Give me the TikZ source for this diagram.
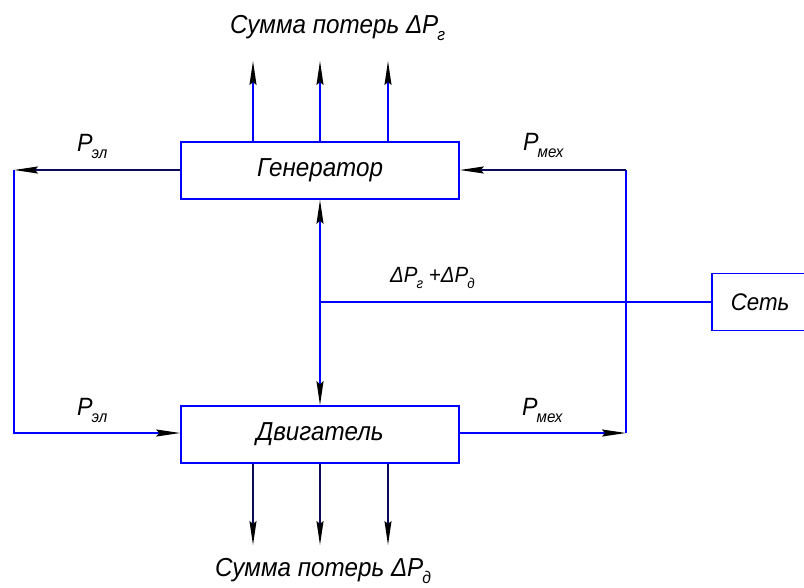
\documentclass[tikz,border=0pt]{standalone}
\usepackage{fontspec}
\setmainfont{Liberation Sans}[FakeStretch=0.93]
\usetikzlibrary{arrows.meta}
\definecolor{lblue}{RGB}{0,0,255}
\definecolor{dline}{RGB}{10,10,90}
\newcommand\sbs[1]{\kern-0.04em\raisebox{-0.3em}{\scalebox{0.65}{#1}}}
\tikzset{
  box/.style={draw=lblue, line width=1.6pt, rectangle, minimum width=278pt, minimum height=57pt, inner sep=0pt, font=\fontsize{26}{26}\selectfont\itshape},
  conn/.style={draw=lblue, line width=1.6pt},
  dconn/.style={draw=dline, line width=1.6pt},
  arr/.style={-{Stealth[length=24pt,width=7pt,inset=3pt,color=black]}},
  lbl/.style={inner sep=0pt, anchor=base west, font=\fontsize{25}{25}\selectfont\itshape},
  ttl/.style={inner sep=0pt, anchor=base west, font=\fontsize{26}{26}\selectfont\itshape},
  sml/.style={inner sep=0pt, anchor=base west, font=\fontsize{22}{22}\selectfont\itshape}
}
\begin{document}
\begin{tikzpicture}[x=1pt,y=-1pt]
\useasboundingbox (0,0) rectangle (804,587);
% boxes
\node[box] (gen) at (320,170.5) {Генератор};
\node[box] (mot) at (320,434.5) {Двигатель};
\node[box, minimum width=0pt, text width=90pt, align=left, inner xsep=19pt, anchor=west, font=\fontsize{24}{24}\selectfont\itshape] (net) at (711,302) {Сеть};
% corner coordinates
\coordinate (lt) at (14,170);
\coordinate (lb) at (14,433);
\coordinate (rt) at (626,170);
\coordinate (rb) at (626,433);
\coordinate (mid) at (320,302);
% left loop
\draw[dconn, arr] (gen.west |- lt) -- (lt);
\draw[conn, arr] (lt) -- (lb) -- (mot.west |- lb);
% right loop
\draw[conn, arr] (mot.east |- rb) -- (rb);
\draw[conn] (rb) -- (rt);
\draw[dconn, arr] (rt) -- (gen.east |- rt);
% centre line
\draw[conn, {Stealth[length=24pt,width=7pt,inset=3pt,color=black]}-{Stealth[length=24pt,width=7pt,inset=3pt,color=black]}] (gen.south) -- (mot.north);
\draw[conn] (mid) -- (net.west);
% loss arrows
\coordinate (u1) at (253,61); \coordinate (u2) at (320,61); \coordinate (u3) at (388,61);
\coordinate (d1) at (253,545); \coordinate (d2) at (320,545); \coordinate (d3) at (388,545);
\draw[conn, arr] (gen.north -| u1) -- (u1);
\draw[conn, arr] (gen.north -| u2) -- (u2);
\draw[conn, arr] (gen.north -| u3) -- (u3);
\draw[dconn, arr] (mot.south -| d1) -- (d1);
\draw[dconn, arr] (mot.south -| d2) -- (d2);
\draw[dconn, arr] (mot.south -| d3) -- (d3);
% labels
\node[ttl] (t1) at (230,33) {Сумма потерь ΔP\sbs{г}};
\node[ttl] (t2) at (215,576) {Сумма потерь ΔP\sbs{д}};
\node[lbl] (p1) at (77,151) {P\sbs{эл}};
\node[lbl] (p2) at (523,150) {P\sbs{мех}};
\node[lbl] (p3) at (77,415) {P\sbs{эл}};
\node[lbl] (p4) at (522,415) {P\sbs{мех}};
\node[sml] (dp) at (390,282) {ΔP\sbs{г} +ΔP\sbs{д}};
\end{tikzpicture}
\end{document}
